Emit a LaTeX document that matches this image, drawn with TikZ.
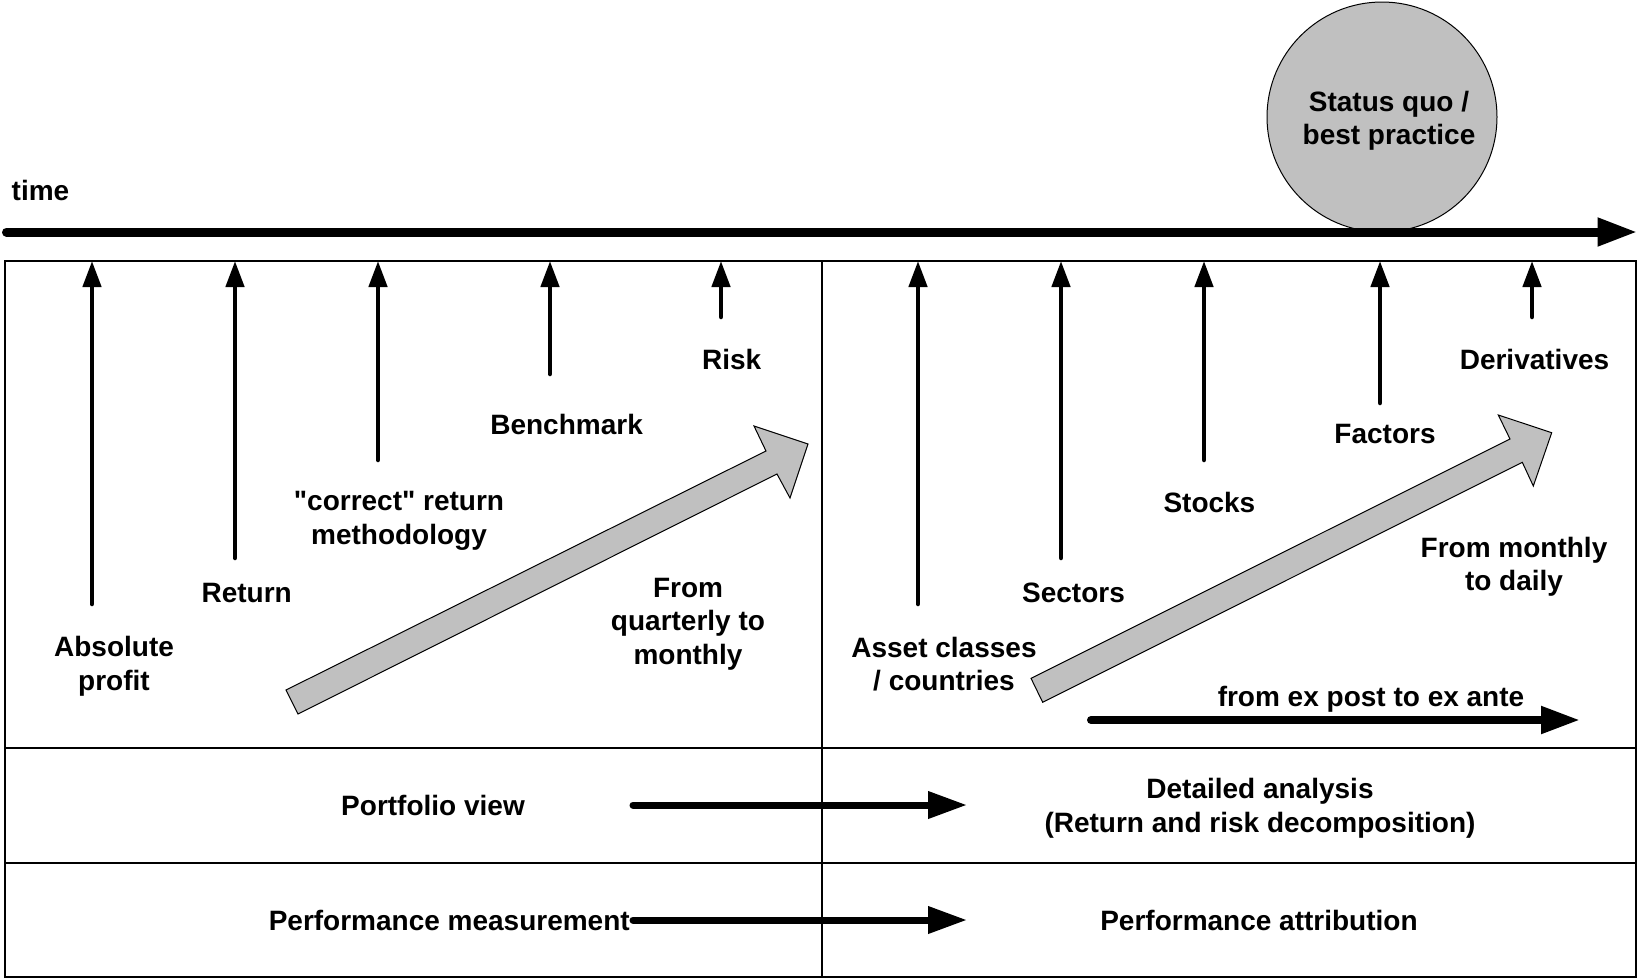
\documentclass[tikz,border=0pt]{standalone}
\usepackage{fontspec}
\setmainfont{Liberation Sans}[Ligatures=TeXOff]
\usetikzlibrary{arrows.meta}
\definecolor{boxgray}{RGB}{192,192,192}
\tikzset{
  lbl/.style={font=\fontsize{28}{33.5}\selectfont\bfseries, inner sep=0pt, align=center},
  frame/.style={line width=2pt},
  tick/.style={line width=4.5pt, line cap=round, -{Triangle[length=26pt,width=18pt]}},
  bigarrow/.style={line width=7pt, line cap=round, -{Triangle[length=39pt,width=26pt]}},
  expost/.style={line width=8pt, line cap=round, -{Triangle[length=39pt,width=26pt]}},
  timearrow/.style={line width=9pt, line cap=round, -{Triangle[length=40pt,width=26.5pt]}},
  grayarrow/.style={fill=boxgray, draw=black, line width=1pt, line join=miter},
  sqcircle/.style={circle, fill=boxgray, draw=black, line width=1pt, minimum size=230pt, inner sep=0pt},
}
\begin{document}
\begin{tikzpicture}[x=1pt,y=-1pt]
\useasboundingbox (0,0) rectangle (1639,978);

% status quo circle
\node[sqcircle] (sq) at (1382,117) {};
\node[lbl] (sqt) at (1389,121) {Status quo /\\best practice};

% time axis
\node[lbl, anchor=base west] (time) at (11.5,200) {time};
\coordinate (t0) at (6.5,232);
\coordinate (t1) at (1637.5,232);
\draw[timearrow] (t0) -- (t1);

% frame
\coordinate (nw) at (5,261);
\coordinate (se) at (1636,977);
\coordinate (vtop) at (822,261);
\coordinate (vbot) at (822,977);
\coordinate (h1l) at (5,748);
\coordinate (h1r) at (1636,748);
\coordinate (h2l) at (5,863);
\coordinate (h2r) at (1636,863);
\draw[frame] (nw) rectangle (se);
\draw[frame] (vtop) -- (vbot);
\draw[frame] (h1l) -- (h1r);
\draw[frame] (h2l) -- (h2r);

% tick arrows, left panel
\coordinate (a1) at (92,604);
\coordinate (a2) at (235,558);
\coordinate (a3) at (378,460);
\coordinate (a4) at (550,374);
\coordinate (a5) at (721,317);
% right panel
\coordinate (b1) at (918,604);
\coordinate (b2) at (1061,558);
\coordinate (b3) at (1204,460);
\coordinate (b4) at (1380,403);
\coordinate (b5) at (1532,317);
\foreach \c in {a1,a2,a3,a4,a5,b1,b2,b3,b4,b5}
  \draw[tick] (\c) -- (\c |- nw);

% labels, left panel
\node[lbl] (absprofit) at (114,666) {Absolute\\profit};
\node[lbl, anchor=base] (ret) at (246.7,602) {Return};
\node[lbl] (correct) at (399,521) {"correct" return\\methodology};
\node[lbl, anchor=base] (bench) at (566.6,434.5) {Benchmark};
\node[lbl, anchor=base] (risk) at (731.7,369) {Risk};
\node[lbl] (quart) at (688,624) {From\\quarterly to\\monthly};

% labels, right panel
\node[lbl] (asset) at (944,664) {Asset classes\\/ countries};
\node[lbl, anchor=base] (sectors) at (1073.5,602) {Sectors};
\node[lbl, anchor=base] (stocks) at (1209.4,512) {Stocks};
\node[lbl, anchor=base] (factors) at (1385,443) {Factors};
\node[lbl, anchor=base] (deriv) at (1534.5,369) {Derivatives};
\node[lbl] (daily) at (1514,567) {From monthly\\to daily};

% gray arrows
\draw[grayarrow] (286,690) -- (766,451) -- (754,426) -- (808,444) -- (790,498) -- (777,474) -- (298,714) -- cycle;
\draw[grayarrow] (1031,678.3) -- (1510,439) -- (1498.3,415) -- (1551.7,432.7) -- (1533.3,486) -- (1522.3,462.3) -- (1042.7,702.3) -- cycle;

% ex post arrow
\node[lbl, anchor=base] (exp) at (1371,706) {from ex post to ex ante};
\coordinate (e0) at (1091,720);
\coordinate (e1) at (1580,720);
\draw[expost] (e0) -- (e1);

% bottom rows
\node[lbl, anchor=base] (pview) at (433,815) {Portfolio view};
\node[lbl] (detail) at (1260,808) {Detailed analysis\\(Return and risk decomposition)};
\coordinate (p0) at (633,805);
\coordinate (p1) at (967,805);
\draw[bigarrow] (p0) -- (p1);

\node[lbl, anchor=base east] (pmeas) at (630,930) {Performance measurement};
\node[lbl, anchor=base] (pattr) at (1259,930) {Performance attribution};
\coordinate (m0) at (633,920);
\coordinate (m1) at (967,920);
\draw[bigarrow] (m0) -- (m1);
\end{tikzpicture}
\end{document}
